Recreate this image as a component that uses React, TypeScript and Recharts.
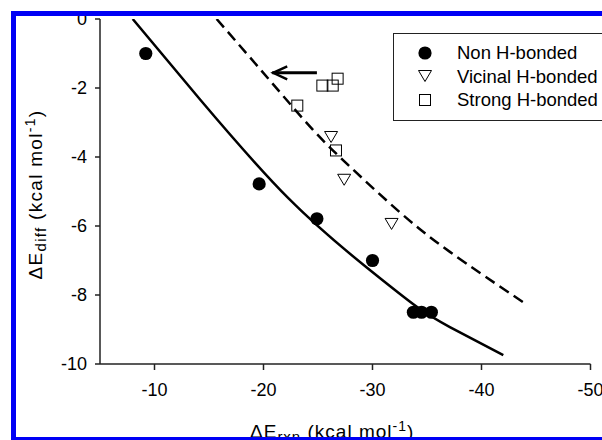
import React from "react";
import { ComposedChart, XAxis, YAxis, Scatter, Line, Legend } from "recharts";

const FONT = "'Liberation Sans', Arial, Helvetica, sans-serif";

const xTicks = [-10, -20, -30, -40, -50];
const yTicks = [0, -2, -4, -6, -8, -10];

const seriesNames = ["Non H-bonded", "Vicinal H-bonded", "Strong H-bonded"];

const nonHBonded = [
  { x: -9.2, y: -1.0 },
  { x: -19.6, y: -4.78 },
  { x: -24.9, y: -5.79 },
  { x: -30.0, y: -7.0 },
  { x: -33.75, y: -8.5 },
  { x: -34.5, y: -8.5 },
  { x: -35.4, y: -8.5 },
];

const vicinalHBonded = [
  { x: -26.2, y: -3.42 },
  { x: -27.4, y: -4.66 },
  { x: -31.75, y: -5.94 },
];

const strongHBonded = [
  { x: -23.1, y: -2.51 },
  { x: -25.4, y: -1.93 },
  { x: -26.35, y: -1.93 },
  { x: -26.8, y: -1.73 },
  { x: -26.65, y: -3.81 },
];

// fitted curves
const fitNonHBonded = [
  { x: -8.0, y: 0 },
  { x: -14.2, y: -2.34 },
  { x: -22.3, y: -5.2 },
  { x: -29.5, y: -7.21 },
  { x: -34.1, y: -8.35 },
  { x: -37.1, y: -8.93 },
  { x: -42.0, y: -9.74 },
];

const fitHBonded = [
  { x: -15.7, y: 0 },
  { x: -20.5, y: -1.75 },
  { x: -24.5, y: -3.2 },
  { x: -28.0, y: -4.3 },
  { x: -32.5, y: -5.6 },
  { x: -37.1, y: -6.75 },
  { x: -44.2, y: -8.29 },
];

const arrowLine = [
  { x: -24.9, y: -1.56 },
  { x: -20.8, y: -1.56 },
];

const CircleMark = (props: any) => (
  <circle cx={props.cx} cy={props.cy} r={6.6} fill="#000" />
);

const TriangleMark = (props: any) => {
  const { cx, cy } = props;
  return (
    <polygon
      points={`${cx - 6.5},${cy - 5.5} ${cx + 6.5},${cy - 5.5} ${cx},${cy + 5.5}`}
      fill="none"
      stroke="#000"
      strokeWidth={1}
    />
  );
};

const SquareMark = (props: any) => (
  <rect x={props.cx - 5.5} y={props.cy - 5.5} width={11} height={11} fill="none" stroke="#000" strokeWidth={1} />
);

const markers = [CircleMark, TriangleMark, SquareMark];

const renderArrowHead = (props: any) => {
  const { cx, cy, index } = props;
  if (index !== arrowLine.length - 1) return <g key={`a${index}`} />;
  return (
    <path
      key={`a${index}`}
      d={`M${cx + 15},${cy - 6.5} L${cx + 1},${cy} L${cx + 15},${cy + 6.5}`}
      fill="none"
      stroke="#000"
      strokeWidth={2.5}
    />
  );
};

const renderLegend = () => (
  <div
    style={{
      width: 300,
      height: 88,
      border: "1.5px solid #222",
      boxSizing: "border-box",
      background: "#fff",
      paddingTop: 7,
      fontFamily: FONT,
      fontSize: 18.5,
      color: "#000",
    }}
  >
    {seriesNames.map((name, i) => {
      const Mark = markers[i];
      return (
        <div key={name} style={{ height: 23.5, lineHeight: "23.5px", display: "flex", alignItems: "center", whiteSpace: "nowrap" }}>
          <svg width={16} height={16} style={{ marginLeft: 23, marginRight: 24 }}>
            <Mark cx={8} cy={8} />
          </svg>
          <span>{name}</span>
        </div>
      );
    })}
  </div>
);

const renderYLabel = (props: any) => {
  const vb = props.viewBox;
  const x = vb.x + 42;
  const y = vb.y + vb.height / 2 + 3;
  return (
    <text
      x={x}
      y={y}
      transform={`rotate(-90, ${x}, ${y})`}
      textAnchor="middle"
      fontFamily={FONT}
      fontSize={19}
      letterSpacing={1.3}
      fill="#000"
    >
      ΔE
      <tspan fontSize={15} dy={4}>diff</tspan>
      <tspan dy={-4}> (kcal mol</tspan>
      <tspan fontSize={14} dy={-7}>-1</tspan>
      <tspan dy={7}>)</tspan>
    </text>
  );
};

const renderXLabel = (props: any) => {
  const vb = props.viewBox;
  const x = vb.x + 150;
  const y = vb.y + 74;
  return (
    <text x={x} y={y} textAnchor="start" fontFamily={FONT} fontSize={19} letterSpacing={1} fill="#000">
      ΔE
      <tspan fontSize={15} dy={4}>rxn</tspan>
      <tspan dy={-4}> (kcal mol</tspan>
      <tspan fontSize={14} dy={-7}>-1</tspan>
      <tspan dy={7}>)</tspan>
    </text>
  );
};

const tickStyle = { fill: "#000", fontSize: 18, fontFamily: FONT };

export default function App() {
  return (
    <div style={{ position: "absolute", left: 0, top: 0, width: 602, height: 440, overflow: "hidden", background: "#fff" }}>
      <ComposedChart width={602} height={440} margin={{ top: 19, right: 11.5, left: 0, bottom: 0 }}>
        <XAxis
          type="number"
          dataKey="x"
          domain={[-50, -5]}
          reversed
          allowDataOverflow
          ticks={xTicks}
          interval={0}
          tickSize={6}
          tickMargin={13}
          height={76}
          tick={tickStyle}
          axisLine={{ stroke: "#222", strokeWidth: 1.5 }}
          tickLine={{ stroke: "#222", strokeWidth: 1.5 }}
          label={{ content: renderXLabel }}
        />
        <YAxis
          type="number"
          dataKey="y"
          domain={[-10, 0]}
          allowDataOverflow
          ticks={yTicks}
          interval={0}
          tickSize={5}
          tickMargin={8}
          width={100}
          tick={tickStyle}
          axisLine={{ stroke: "#222", strokeWidth: 1.5 }}
          tickLine={{ stroke: "#222", strokeWidth: 1.5 }}
          label={{ content: renderYLabel }}
        />
        <Line
          data={fitNonHBonded}
          dataKey="y"
          type="natural"
          stroke="#000"
          strokeWidth={2.5}
          dot={false}
          activeDot={false}
          legendType="none"
          isAnimationActive={false}
        />
        <Line
          data={fitHBonded}
          dataKey="y"
          type="natural"
          stroke="#000"
          strokeWidth={2.5}
          strokeDasharray="11 6"
          dot={false}
          activeDot={false}
          legendType="none"
          isAnimationActive={false}
        />
        <Line
          data={arrowLine}
          dataKey="y"
          type="linear"
          stroke="#000"
          strokeWidth={3}
          dot={renderArrowHead}
          activeDot={false}
          legendType="none"
          isAnimationActive={false}
        />
        <Scatter name={seriesNames[0]} data={nonHBonded} shape={CircleMark} isAnimationActive={false} />
        <Scatter name={seriesNames[1]} data={vicinalHBonded} shape={TriangleMark} isAnimationActive={false} />
        <Scatter name={seriesNames[2]} data={strongHBonded} shape={SquareMark} isAnimationActive={false} />
        <Legend
          layout="horizontal"
          verticalAlign="middle"
          align="center"
          wrapperStyle={{ left: 393, top: 33, width: 300, height: 88 }}
          content={renderLegend}
        />
      </ComposedChart>
      <div
        style={{
          position: "absolute",
          left: 11,
          top: 11,
          width: 700,
          height: 431,
          border: "5px solid #0000f5",
          boxSizing: "border-box",
          pointerEvents: "none",
        }}
      />
    </div>
  );
}
